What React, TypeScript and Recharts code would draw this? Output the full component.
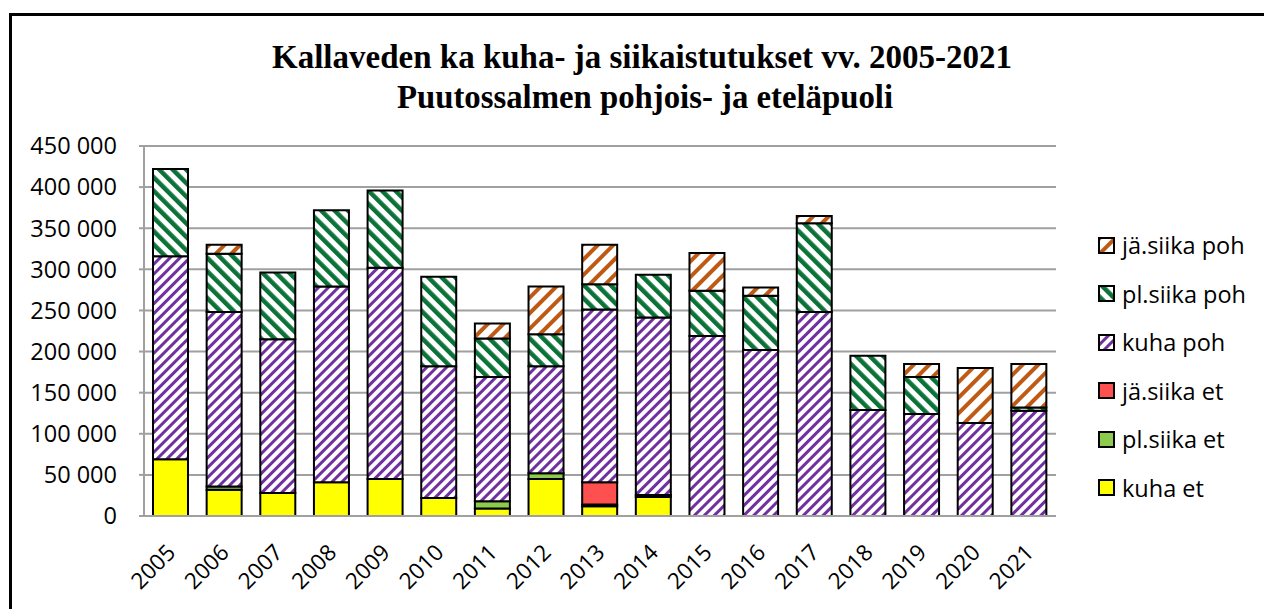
import React from 'react';
import { BarChart, Bar, XAxis, YAxis, CartesianGrid } from 'recharts';

const years = ['2005','2006','2007','2008','2009','2010','2011','2012','2013','2014','2015','2016','2017','2018','2019','2020','2021'];
const kuhaEt =     [69000, 32000, 28000, 41000, 45000, 22000, 9000, 45000, 12000, 23000, 0, 0, 0, 0, 0, 0, 0];
const plSiikaEt =  [0, 4000, 0, 0, 0, 0, 9000, 7000, 2000, 2500, 0, 0, 0, 0, 0, 0, 0];
const jaSiikaEt =  [0, 0, 0, 0, 0, 0, 0, 0, 27000, 0, 0, 0, 0, 0, 0, 0, 0];
const kuhaPoh =    [247000, 212000, 187000, 238000, 257000, 160000, 151000, 130000, 210000, 216000, 219000, 202000, 248000, 129000, 124000, 113000, 128000];
const plSiikaPoh = [106000, 71000, 81000, 93000, 94000, 109000, 47000, 39000, 31000, 52000, 55000, 66000, 108000, 66000, 45000, 0, 4000];
const jaSiikaPoh = [0, 11000, 0, 0, 0, 0, 18000, 58000, 48000, 0, 46000, 10000, 9000, 0, 16000, 67000, 53000];
const yTicks = [0, 50000, 100000, 150000, 200000, 250000, 300000, 350000, 400000, 450000];
const titleLines = ['Kallaveden ka kuha- ja siikaistutukset vv. 2005-2021', 'Puutossalmen pohjois- ja eteläpuoli'];

const series = [
  { key: 'kuhaEt', name: 'kuha et', fill: '#FFFF00' },
  { key: 'plSiikaEt', name: 'pl.siika et', fill: '#8CCB4E' },
  { key: 'jaSiikaEt', name: 'jä.siika et', fill: '#FF5050' },
  { key: 'kuhaPoh', name: 'kuha poh', fill: 'url(#pPurple)' },
  { key: 'plSiikaPoh', name: 'pl.siika poh', fill: 'url(#pGreen)' },
  { key: 'jaSiikaPoh', name: 'jä.siika poh', fill: 'url(#pBrown)' },
];

const data = years.map((y, i) => ({
  year: y,
  kuhaEt: kuhaEt[i],
  plSiikaEt: plSiikaEt[i],
  jaSiikaEt: jaSiikaEt[i],
  kuhaPoh: kuhaPoh[i],
  plSiikaPoh: plSiikaPoh[i],
  jaSiikaPoh: jaSiikaPoh[i],
}));

const fmt = (v: number) => String(v).replace(/\B(?=(\d{3})+(?!\d))/g, ' ');
const FONT = '"Open Sans", sans-serif';
const SERIF = '"Liberation Serif", "Times New Roman", serif';

const XTick = (props: any) => {
  const { x, y, payload } = props;
  const bx = x + 6;
  const by = y + 38;
  return (
    <text x={bx} y={by} transform={`rotate(-45, ${bx}, ${by})`} textAnchor="end" fontSize={22.5} fontFamily={FONT} fill="#000">
      {payload.value}
    </text>
  );
};

export default function App() {
  const legendItems = [...series].reverse();
  return (
    <div style={{ position: 'fixed', left: 0, top: 0, width: 1264, height: 609, overflow: 'hidden', background: '#fff' }}>
      <svg width={0} height={0} style={{ position: 'absolute' }}>
        <defs>
          <pattern id="pPurple" patternUnits="userSpaceOnUse" width={7} height={7} patternTransform="rotate(45)">
            <rect width={7} height={7} fill="#fff" />
            <rect width={3} height={7} fill="#7030A0" />
          </pattern>
          <pattern id="pGreen" patternUnits="userSpaceOnUse" width={9.5} height={9.5} patternTransform="rotate(-45)">
            <rect width={9.5} height={9.5} fill="#fff" />
            <rect width={4.5} height={9.5} fill="#0B7238" />
          </pattern>
          <pattern id="pBrown" patternUnits="userSpaceOnUse" width={11} height={11} patternTransform="rotate(45)">
            <rect width={11} height={11} fill="#fff" />
            <rect width={4} height={11} fill="#BF5A14" />
          </pattern>
        </defs>
      </svg>
      <div style={{ position: 'absolute', left: 9, top: 13, width: 1400, height: 800, borderLeft: '3px solid #000', borderTop: '3px solid #000' }} />
      <svg width={1264} height={140} style={{ position: 'absolute', left: 0, top: 0 }}>
        <text x={642} y={68} textAnchor="middle" fontFamily={SERIF} fontWeight="bold" fontSize={33} fill="#000" textLength={740} lengthAdjust="spacingAndGlyphs">{titleLines[0]}</text>
        <text x={645} y={108} textAnchor="middle" fontFamily={SERIF} fontWeight="bold" fontSize={33} fill="#000" textLength={496} lengthAdjust="spacingAndGlyphs">{titleLines[1]}</text>
      </svg>
      <div style={{ position: 'absolute', left: 0, top: 0 }}>
        <BarChart width={1264} height={609} data={data} margin={{ top: 146, right: 208, bottom: 0, left: 0 }} barSize={35}>
          <CartesianGrid vertical={false} stroke="#A0A0A0" strokeWidth={2} />
          <XAxis dataKey="year" height={93} interval={0} tickLine={false} tickSize={0} tickMargin={0} axisLine={{ stroke: '#A0A0A0', strokeWidth: 2 }} tick={<XTick />} />
          <YAxis width={144} domain={[0, 450000]} ticks={yTicks} interval={0} tickFormatter={fmt} tickSize={5} tickMargin={22}
            axisLine={{ stroke: '#A0A0A0', strokeWidth: 2 }} tickLine={{ stroke: '#A0A0A0', strokeWidth: 2 }}
            tick={{ fontSize: 23.5, fontFamily: FONT, fill: '#000' }} />
          {series.map(s => (
            <Bar key={s.key} dataKey={s.key} name={s.name} stackId="a" fill={s.fill} stroke="#000" strokeWidth={2} isAnimationActive={false} />
          ))}
        </BarChart>
      </div>
      <div style={{ position: 'absolute', left: 1098, top: 229 }}>
        {legendItems.map((s, i) => (
          <div key={s.key} style={{ position: 'absolute', left: 0, top: i * 48.5, height: 32, display: 'flex', alignItems: 'center', whiteSpace: 'nowrap' }}>
            <svg width={17} height={17} style={{ display: 'block' }}>
              <rect x={1} y={1} width={15} height={15} fill={s.fill} stroke="#000" strokeWidth={2} />
            </svg>
            <span style={{ marginLeft: 7, fontFamily: FONT, fontSize: 23.5, color: '#000', lineHeight: '32px' }}>{s.name}</span>
          </div>
        ))}
      </div>
    </div>
  );
}
